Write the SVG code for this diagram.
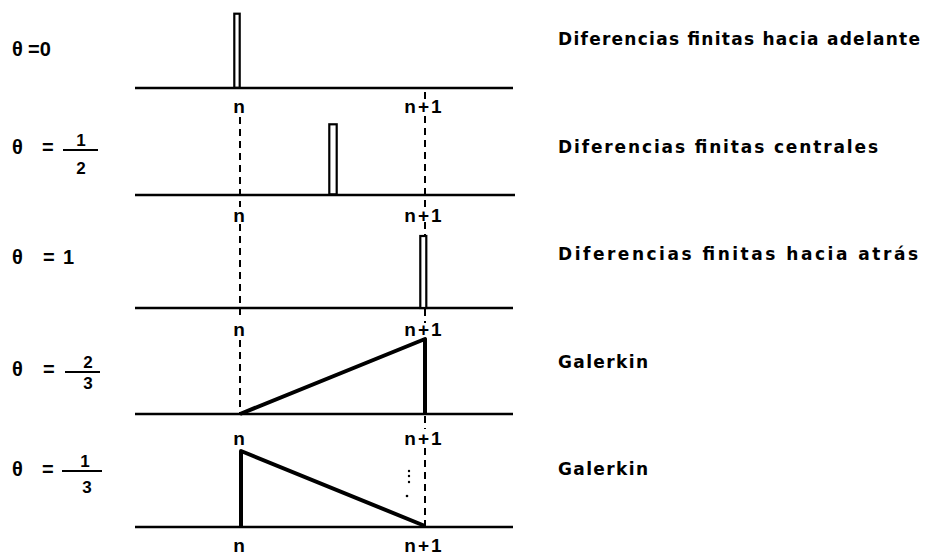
<svg xmlns="http://www.w3.org/2000/svg" width="931" height="556" viewBox="0 0 931 556">
<style>
text{font-family:"Liberation Sans",Arial,sans-serif;font-weight:bold;fill:#000}
.th{font-size:20px}
.fr{font-size:17px;text-anchor:middle}
.lb{font-family:"DejaVu Sans","Liberation Sans",sans-serif;font-size:17px}
.nl{font-size:19px;text-anchor:middle}
.ax{stroke:#000;stroke-width:2.5;fill:none}
.dash{stroke:#000;stroke-width:2;stroke-dasharray:7 5;fill:none}
.bar{stroke:#000;stroke-width:2.2;fill:#fff}
.tri{stroke:#000;stroke-width:4;fill:none;stroke-linejoin:round}
.fb{stroke:#000;stroke-width:2.2}
</style>
<rect width="931" height="556" fill="#fff"/>
<g id="connectors">
<path class="dash" d="M240 117V207M240 224V320M240 340V414"/>
<path class="dash" d="M425 92V99M425 116V208M425 222V235M425 309V323M425 416V429M425 448V526"/>
<g fill="#000"><circle cx="409" cy="471" r="1.2"/><circle cx="409" cy="476" r="1.2"/><circle cx="409" cy="482" r="1.2"/><circle cx="407" cy="496" r="1.3"/></g>
</g>
<g id="row1">
<text class="th" x="12" y="56">θ</text><text class="th" x="28" y="56">=0</text>
<line class="ax" x1="135" y1="88" x2="513" y2="88"/>
<rect class="bar" x="234.3" y="13.7" width="5.4" height="74"/>
<text class="nl" x="239" y="113">n</text>
<text class="nl" x="424" y="113" letter-spacing="2">n+1</text>
<text class="lb" x="558" y="45" textLength="362" lengthAdjust="spacing">Diferencias finitas hacia adelante</text>
</g>
<g id="row2">
<text class="th" x="12" y="154">θ</text><text class="th" x="42" y="154">=</text>
<line class="fb" x1="63" y1="150" x2="98" y2="150"/>
<text class="fr" x="81" y="146">1</text><text class="fr" x="81" y="174">2</text>
<line class="ax" x1="135" y1="195" x2="515" y2="195"/>
<rect class="bar" x="329.3" y="124.3" width="7.4" height="70"/>
<text class="nl" x="239" y="222">n</text>
<text class="nl" x="424" y="222" letter-spacing="2">n+1</text>
<text class="lb" x="558" y="153" textLength="320" lengthAdjust="spacing">Diferencias finitas centrales</text>
</g>
<g id="row3">
<text class="th" x="12" y="264">θ</text><text class="th" x="43" y="264">=</text><text class="th" x="63" y="264">1</text>
<line class="ax" x1="135" y1="308" x2="513" y2="308"/>
<rect class="bar" x="420.3" y="236" width="6" height="72"/>
<text class="nl" x="239" y="336">n</text>
<text class="nl" x="424" y="336" letter-spacing="2">n+1</text>
<text class="lb" x="558" y="260" textLength="360" lengthAdjust="spacing">Diferencias finitas hacia atrás</text>
</g>
<g id="row4">
<text class="th" x="12" y="376">θ</text><text class="th" x="43" y="376">=</text>
<line class="fb" x1="65" y1="372" x2="100" y2="372"/>
<text class="fr" x="88" y="368">2</text><text class="fr" x="88" y="389">3</text>
<line class="ax" x1="135" y1="414" x2="513" y2="414"/>
<path class="tri" d="M240 414L425 339V414"/>
<text class="nl" x="239" y="445">n</text>
<text class="nl" x="424" y="445" letter-spacing="2">n+1</text>
<text class="lb" x="558" y="368" textLength="90" lengthAdjust="spacing">Galerkin</text>
</g>
<g id="row5">
<text class="th" x="12" y="476">θ</text><text class="th" x="42" y="476">=</text>
<line class="fb" x1="62" y1="471" x2="102" y2="471"/>
<text class="fr" x="85" y="467">1</text><text class="fr" x="87" y="493">3</text>
<line class="ax" x1="135" y1="527" x2="513" y2="527"/>
<path class="tri" d="M241 527V451L425 526"/>
<text class="nl" x="239" y="552">n</text>
<text class="nl" x="424" y="552" letter-spacing="2">n+1</text>
<text class="lb" x="558" y="475" textLength="90" lengthAdjust="spacing">Galerkin</text>
</g>
</svg>
